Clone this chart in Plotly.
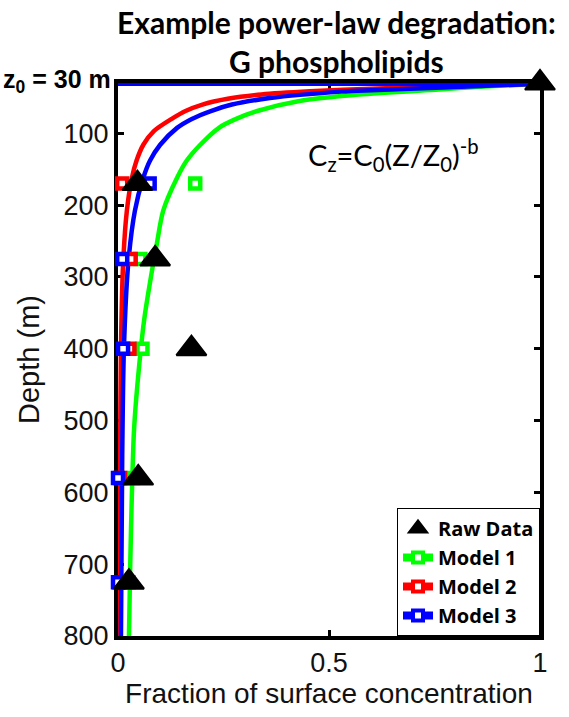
import plotly.graph_objects as go

# ---------------- data ----------------
sample_depth = [30, 170, 275, 400, 580, 725]
raw_frac = [1.0, 0.046, 0.088, 0.174, 0.048, 0.026]

model_depth = [170, 275, 400, 580, 725]
model1_sq = [0.183, 0.053, 0.058, 0.035, 0.025]
model2_sq = [0.010, 0.030, 0.027, 0.005, 0.003]
model3_sq = [0.075, 0.010, 0.012, 0.0, 0.0]

# model curves (depth in m, fraction of surface concentration)
m1_depth = [31, 35, 39, 46, 55, 69, 80, 92, 116, 138, 162, 208, 254, 283, 360, 450, 513, 600, 700, 800]
m1_frac = [1.0, 0.87, 0.76, 0.57, 0.43, 0.33, 0.28, 0.24, 0.195, 0.163, 0.14, 0.107, 0.092, 0.083, 0.062, 0.046, 0.038, 0.033, 0.029, 0.026]

m2_depth = [31, 34, 38, 41.6, 46, 52, 60, 69, 79, 97, 116, 138, 162, 208, 283, 400, 550, 800]
m2_frac = [1.0, 0.80, 0.60, 0.455, 0.34, 0.26, 0.20, 0.16, 0.13, 0.085, 0.060, 0.044, 0.033, 0.021, 0.012, 0.007, 0.005, 0.003]

m3_depth = [31, 35.5, 40, 42, 51, 60, 69, 80, 92.5, 116, 138, 162, 208, 283, 400, 550, 800]
m3_frac = [1.0, 0.80, 0.60, 0.53, 0.36, 0.27, 0.22, 0.175, 0.14, 0.10, 0.076, 0.060, 0.040, 0.024, 0.014, 0.010, 0.007]

# blue model line running along the surface depth
m3_top_frac = [0.0, 1.0]
m3_top_depth = [31, 31]

y_ticks = [100, 200, 300, 400, 500, 600, 700, 800]
x_ticks = [0, 0.5, 1]
x_ticktext = ["0", "0.5", "1"]

GREEN = "#00ff00"
RED = "#ff0000"
BLUE = "#0000ff"
LW = 4.5

fig = go.Figure()

# model curves
for fr, dp, col in [(m1_frac, m1_depth, GREEN), (m2_frac, m2_depth, RED), (m3_frac, m3_depth, BLUE)]:
    fig.add_trace(go.Scatter(x=fr, y=dp, mode="lines", line=dict(color=col, width=LW, shape="spline", smoothing=0.8),
                             showlegend=False, hoverinfo="skip"))
fig.add_trace(go.Scatter(x=m3_top_frac, y=m3_top_depth, mode="lines", line=dict(color=BLUE, width=LW),
                         showlegend=False, hoverinfo="skip", cliponaxis=False))

# model squares
for vals, col in [(model1_sq, GREEN), (model2_sq, RED), (model3_sq, BLUE)]:
    fig.add_trace(go.Scatter(x=vals, y=model_depth, mode="markers",
                             marker=dict(symbol="square", size=10, color="white", line=dict(color=col, width=4.5)),
                             showlegend=False, cliponaxis=False))

# raw data
fig.add_trace(go.Scatter(x=raw_frac, y=sample_depth, mode="markers", name="Raw Data",
                         marker=dict(symbol="triangle-up", size=26, color="black", line=dict(color="black", width=2)),
                         cliponaxis=False, legendrank=1))

# legend-only entries for models
for name, col, rank in [("Model 1", GREEN, 2), ("Model 2", RED, 3), ("Model 3", BLUE, 4)]:
    fig.add_trace(go.Scatter(x=[None], y=[None], mode="lines+markers", name=name,
                             line=dict(color=col, width=8),
                             marker=dict(symbol="square", size=10, color="white", line=dict(color=col, width=4)),
                             legendrank=rank))

AX_FONT = "Liberation Sans, Arial"
axis_common = dict(showline=True, linecolor="black", linewidth=4, mirror="ticks", ticks="inside",
                   ticklen=6, tickwidth=3, tickcolor="black", showgrid=False, zeroline=False,
                   tickfont=dict(family=AX_FONT, size=27, color="#111111", weight="normal"), layer="below traces")

def ypix(p):
    return (636 - p) / 553

fig.update_layout(
    width=569, height=717,
    margin=dict(l=118, r=29, t=83, b=81),
    paper_bgcolor="white", plot_bgcolor="white",
    font=dict(family=AX_FONT, color="black"),
    xaxis=dict(range=[0, 1], tickvals=x_ticks, ticktext=x_ticktext,
               title=dict(text="Fraction of surface concentration", standoff=4,
                          font=dict(family=AX_FONT, size=28, color="#111111", weight="normal")),
               **axis_common),
    yaxis=dict(range=[800, 30], tickvals=y_ticks,
               title=dict(text="Depth (m)", standoff=16,
                          font=dict(family=AX_FONT, size=29, color="#111111", weight="normal")),
               **axis_common),
    legend=dict(x=1, y=0, xanchor="right", yanchor="bottom", bgcolor="white", bordercolor="black", borderwidth=1,
                font=dict(family="Open Sans", size=20, color="black", weight="bold"), tracegroupgap=0,
                itemwidth=30),
    showlegend=True,
    annotations=[
        dict(text="Example power-law degradation:", xref="paper", yref="paper", x=(336 - 118) / 422, y=ypix(22),
             xanchor="center", yanchor="middle", showarrow=False,
             font=dict(family="Lato", size=30, color="black", weight="bold")),
        dict(text="G phospholipids", xref="paper", yref="paper", x=(336 - 118) / 422, y=ypix(61),
             xanchor="center", yanchor="middle", showarrow=False,
             font=dict(family="Lato", size=30, color="black", weight="bold")),
        dict(text="z<sub>0</sub> = 30 m", xref="paper", yref="paper", x=-0.012, y=ypix(81), xanchor="right",
             yanchor="middle", showarrow=False,
             font=dict(family="Liberation Sans, Arial", size=25, color="black", weight="bold")),
        dict(text="C<sub>z</sub>=C<sub>0</sub>(Z/Z<sub>0</sub>)<sup>-b</sup>", xref="paper", yref="paper",
             x=(306 - 118) / 422, y=ypix(155), xanchor="left", yanchor="middle", showarrow=False,
             font=dict(family="Lato", size=29, color="black")),
    ],
)

fig.write_html("out.html")
